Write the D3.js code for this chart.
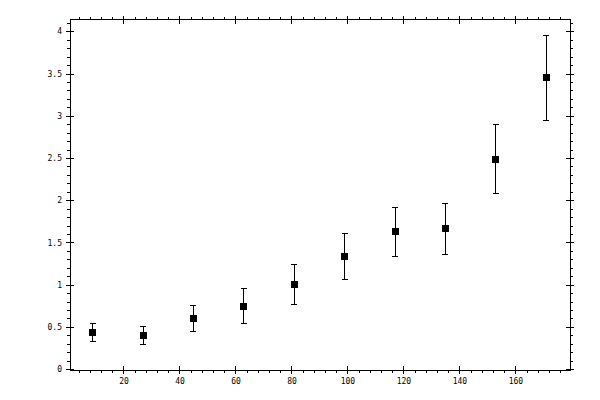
<!DOCTYPE html>
<html>
<head>
<meta charset="utf-8">
<script src="https://cdn.jsdelivr.net/npm/d3@7"></script>
<style>
  body { margin: 0; background: #fff; }
  svg { display: block; }
  .tick text { font-family: "DejaVu Sans Mono", monospace; font-size: 8px; fill: #000; }
  .domain, .tick line { stroke: #000; }
</style>
</head>
<body>
<div class="container"></div>
<script>
const xValues = [9, 27, 45, 63, 81, 99, 117, 135, 153, 171]
const yValues = [0.43, 0.40, 0.60, 0.745, 1.00, 1.335, 1.625, 1.66, 2.485, 3.45]
const yErrors = [0.105, 0.11, 0.155, 0.21, 0.24, 0.27, 0.29, 0.30, 0.41, 0.50]
const xMajorTicks = [20, 40, 60, 80, 100, 120, 140, 160]
const yMajorTicks = [0, 0.5, 1, 1.5, 2, 2.5, 3, 3.5, 4]

const width = 600
const height = 400
const plotLeft = 70, plotRight = 570, plotTop = 19.5, plotBottom = 370

const xScale = d3.scaleLinear().domain([0.9, 179.5]).range([plotLeft, plotRight])
const yScale = d3.scaleLinear().domain([-0.01, 4.14]).range([plotBottom, plotTop])

const xMinor = d3.range(4, 179, 4)
const yMinor = d3.range(0, 42).map(i => i / 10)

const svg = d3.select(".container")
  .append("svg")
    .attr("width", width)
    .attr("height", height)
    .attr("shape-rendering", "crispEdges")

// one side of the frame: outward minor ticks, major ticks crossing the line
const drawSide = (axisFn, scale, pos, major, minor, labels) => {
  const g = svg.append("g").attr("transform", pos)
  g.append("g").call(axisFn(scale).tickValues(minor).tickSize(3).tickFormat(""))
  g.append("g").call(axisFn(scale).tickValues(major).tickSize(-4).tickFormat(""))
  g.append("g").call(axisFn(scale).tickValues(major).tickSize(4).tickPadding(4)
    .tickFormat(labels ? d3.format("") : ""))
  return g
}

drawSide(d3.axisBottom, xScale, `translate(0, ${plotBottom})`, xMajorTicks, xMinor, true)
drawSide(d3.axisTop, xScale, `translate(0, ${plotTop})`, xMajorTicks, xMinor, false)
drawSide(d3.axisLeft, yScale, `translate(${plotLeft}, 0)`, yMajorTicks, yMinor, true)
drawSide(d3.axisRight, yScale, `translate(${plotRight}, 0)`, yMajorTicks, yMinor, false)

svg.selectAll(".domain").remove()

// frame
svg.append("rect")
  .attr("x", plotLeft).attr("y", plotTop)
  .attr("width", plotRight - plotLeft).attr("height", plotBottom - plotTop)
  .attr("fill", "none").attr("stroke", "#000")

const points = xValues.map((x, i) => ({ x, y: yValues[i], e: yErrors[i] }))

const bars = svg.append("g").attr("stroke", "#000").attr("stroke-width", 1)

bars.selectAll(".stem")
  .data(points)
  .enter()
  .append("line")
    .attr("x1", d => xScale(d.x)).attr("x2", d => xScale(d.x))
    .attr("y1", d => yScale(d.y + d.e)).attr("y2", d => yScale(d.y - d.e))

bars.selectAll(".capTop")
  .data(points)
  .enter()
  .append("line")
    .attr("x1", d => xScale(d.x) - 3).attr("x2", d => xScale(d.x) + 3)
    .attr("y1", d => yScale(d.y + d.e)).attr("y2", d => yScale(d.y + d.e))

bars.selectAll(".capBottom")
  .data(points)
  .enter()
  .append("line")
    .attr("x1", d => xScale(d.x) - 3).attr("x2", d => xScale(d.x) + 3)
    .attr("y1", d => yScale(d.y - d.e)).attr("y2", d => yScale(d.y - d.e))

svg.selectAll(".marker")
  .data(points)
  .enter()
  .append("rect")
    .attr("x", d => xScale(d.x) - 3.5)
    .attr("y", d => yScale(d.y) - 3.5)
    .attr("width", 7)
    .attr("height", 7)
    .attr("fill", "#000")
</script>
</body>
</html>
